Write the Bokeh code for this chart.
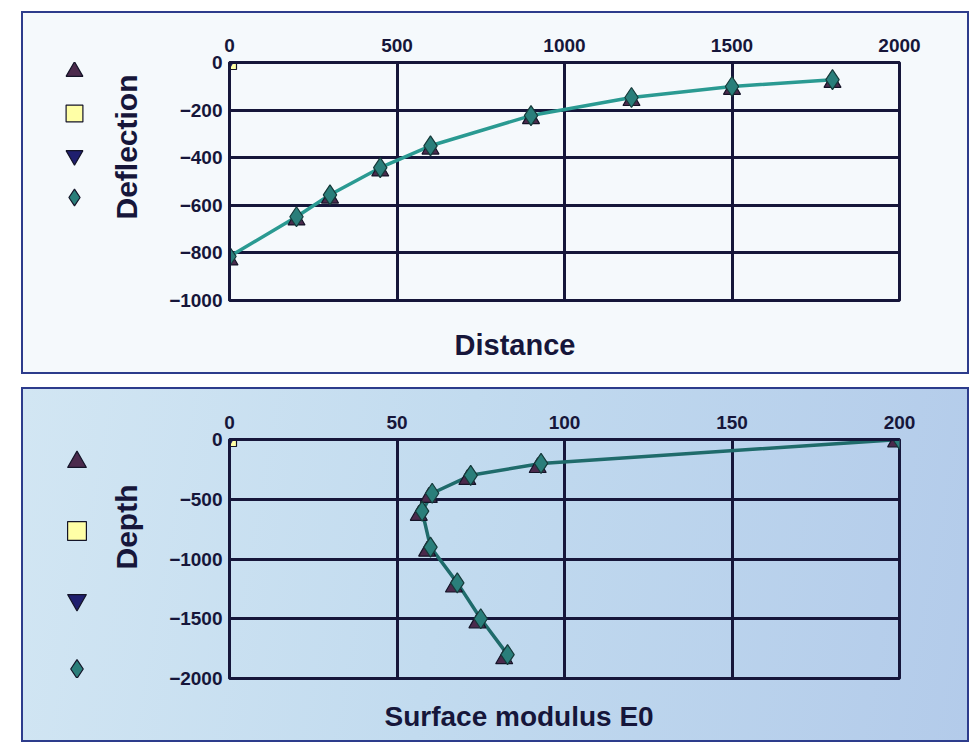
import math
from bokeh.plotting import figure
from bokeh.layouts import column, row
from bokeh.models import Range1d, Legend, LegendItem, FixedTicker, Label
from bokeh.core.properties import value
from bokeh.embed import file_html
from bokeh.resources import INLINE

# ---- data: top chart (deflection basin) ----
distance = [0, 200, 300, 450, 600, 900, 1200, 1500, 1800]
deflection_measured = [-815, -648, -556, -442, -350, -223, -147, -101, -72]
deflection_calc = [-830, -662, -570, -456, -364, -236, -160, -113, -84]
origin_x = [0]
origin_y = [0]
dist_ticks = [0, 500, 1000, 1500, 2000]
defl_ticks = [0, -200, -400, -600, -800, -1000]

# ---- data: bottom chart (surface modulus) ----
depth = [0, -200, -300, -450, -600, -900, -1200, -1500, -1800]
e0_measured = [200, 93, 72, 60.5, 57.5, 60, 68, 75, 83]
depth_calc = [-20, -235, -335, -485, -635, -935, -1235, -1535, -1835]
e0_calc = [199, 92, 71, 59.5, 56.5, 59, 67, 74, 82]
e0_ticks = [0, 50, 100, 150, 200]
depth_ticks = [0, -500, -1000, -1500, -2000]

FONT = "Liberation Sans"
INK = "#16163a"
BORDER = "#2d3c8c"
TRI_UP = "#4b2a4c"
SQUARE = "#ffffa6"
TRI_DN = "#1f1f6e"
DIAM = "#2a7e7a"
OUT = "#141428"

MARKERS = [("triangle", TRI_UP), ("square", SQUARE), ("inverted_triangle", TRI_DN),
           ("diamond", DIAM)]

INNER_W = 944
LEFT_W = 143
BOTTOM_BORDER = 14


def bare(fig):
    fig.border_fill_color = None
    fig.background_fill_color = None
    fig.outline_line_color = None
    fig.xgrid.visible = False
    fig.ygrid.visible = False
    return fig


def make_left_fig(height, top_border, glyph, leg_spacing, leg_loc, ylabel, ylabel_y):
    lf = bare(figure(width=LEFT_W, height=height, output_backend="svg",
                     toolbar_location=None, x_axis_location=None, y_axis_location=None,
                     x_range=Range1d(1, 2), y_range=Range1d(1, 2), min_border=0,
                     min_border_top=top_border, min_border_bottom=BOTTOM_BORDER))
    items = []
    for m, c in MARKERS:
        # legend-only renderers (their point lies outside this panel's ranges)
        r = lf.scatter(origin_x, origin_y, marker=m, size=16, fill_color=c,
                       line_color=OUT, line_width=1.2)
        items.append(LegendItem(label=value(" "), renderers=[r]))
    legend = Legend(items=items, location=leg_loc, glyph_width=glyph, glyph_height=glyph,
                    spacing=leg_spacing, padding=0, margin=0, label_standoff=0,
                    label_width=0, label_text_font_size="1px",
                    border_line_color=None, background_fill_alpha=0)
    lf.add_layout(legend, "center")
    lf.add_layout(Label(x=103, y=ylabel_y, x_units="screen", y_units="screen",
                        text=ylabel, angle=math.pi / 2, text_align="right",
                        text_baseline="middle", text_font=FONT, text_font_size="30px",
                        text_font_style="bold", text_color=INK))
    return lf


def make_title_fig(height, text, x, y, size):
    tf = bare(figure(width=INNER_W, height=height, output_backend="svg",
                     toolbar_location=None, x_axis_location=None, y_axis_location=None,
                     x_range=Range1d(0, 1), y_range=Range1d(0, 1), min_border=0))
    tf.add_layout(Label(x=x, y=y, x_units="screen", y_units="screen", text=text,
                        text_align="left", text_baseline="middle", text_font=FONT,
                        text_font_size=size, text_font_style="bold", text_color=INK))
    return tf


def make_chart(xs_list, xr, yr, xt, yt, line_color, height, top_border):
    p = figure(width=INNER_W - LEFT_W, height=height, output_backend="svg",
               toolbar_location=None,
               x_axis_location="above", x_range=Range1d(*xr), y_range=Range1d(*yr),
               min_border_left=60, min_border_right=68,
               min_border_top=top_border, min_border_bottom=BOTTOM_BORDER)
    p.border_fill_color = None
    p.background_fill_color = None
    p.outline_line_color = INK
    p.outline_line_width = 3

    for ax in (p.xaxis[0], p.yaxis[0]):
        ax.axis_line_color = INK
        ax.axis_line_width = 3
        ax.major_tick_in = 0
        ax.major_tick_out = 0
        ax.minor_tick_line_color = None
        ax.major_label_text_font = FONT
        ax.major_label_text_font_size = "19px"
        ax.major_label_text_font_style = "bold"
        ax.major_label_text_color = INK
        ax.major_label_standoff = 7
    p.xaxis[0].major_label_standoff = 11
    p.xaxis[0].ticker = FixedTicker(ticks=xt)
    p.yaxis[0].ticker = FixedTicker(ticks=yt)
    p.xgrid.ticker = FixedTicker(ticks=xt)
    p.ygrid.ticker = FixedTicker(ticks=yt)
    for g in (p.xgrid[0], p.ygrid[0]):
        g.grid_line_color = INK
        g.grid_line_width = 3

    (xa, ya, xc, yc) = xs_list
    p.line(xa, ya, line_color=line_color, line_width=3.5)
    p.scatter(xc, yc, marker="triangle", size=17, fill_color=TRI_UP,
              line_color=OUT, line_width=1.2)
    p.scatter(origin_x, origin_y, marker="inverted_triangle", size=16,
              fill_color=TRI_DN, line_color=OUT, line_width=1.2)
    p.scatter(origin_x, origin_y, marker="square", size=14,
              fill_color=SQUARE, line_color=OUT, line_width=1.2)
    p.scatter(origin_x, origin_y, marker="inverted_triangle", size=12,
              fill_color=TRI_DN, line_color=None)
    p.scatter(xa, ya, marker="diamond", size=20, fill_color=DIAM,
              line_color="#163a3a", line_width=1.2)
    return p


# top panel: content 359 px tall -> chart row 301 + title strip 58
lf1 = make_left_fig(301, 49, 42, 0, (30, 82), "Deflection", 226)
p1 = make_chart((distance, deflection_measured, distance, deflection_calc),
                (0, 2000), (-1000, 0), dist_ticks, defl_ticks, "#2a9a92", 301, 49)
t1 = make_title_fig(58, "Distance", 431, 28, "29px")
top = column(row(lf1, p1, spacing=0), t1, spacing=0, margin=(11, 0, 0, 21),
             styles={"background": "#f5f9fc", "border": f"2px solid {BORDER}"})

# bottom panel: content 351 px tall -> chart row 303 + title strip 48
lf2 = make_left_fig(303, 50, 47, 22, (30, -14), "Depth", 194)
p2 = make_chart((e0_measured, depth, e0_calc, depth_calc),
                (0, 200), (-2000, 0), e0_ticks, depth_ticks, "#1f6b6b", 303, 50)
t2 = make_title_fig(48, "Surface modulus E0", 361, 24, "28px")
bottom = column(row(lf2, p2, spacing=0), t2, spacing=0, margin=(13, 0, 0, 21),
                styles={"background": "linear-gradient(100deg, #d2e6f3 0%, #c2dbef 45%, #b3cbea 100%)",
                        "border": f"2px solid {BORDER}"})

layout = column(top, bottom, spacing=0)
open("out.html", "w").write(file_html(layout, INLINE))
